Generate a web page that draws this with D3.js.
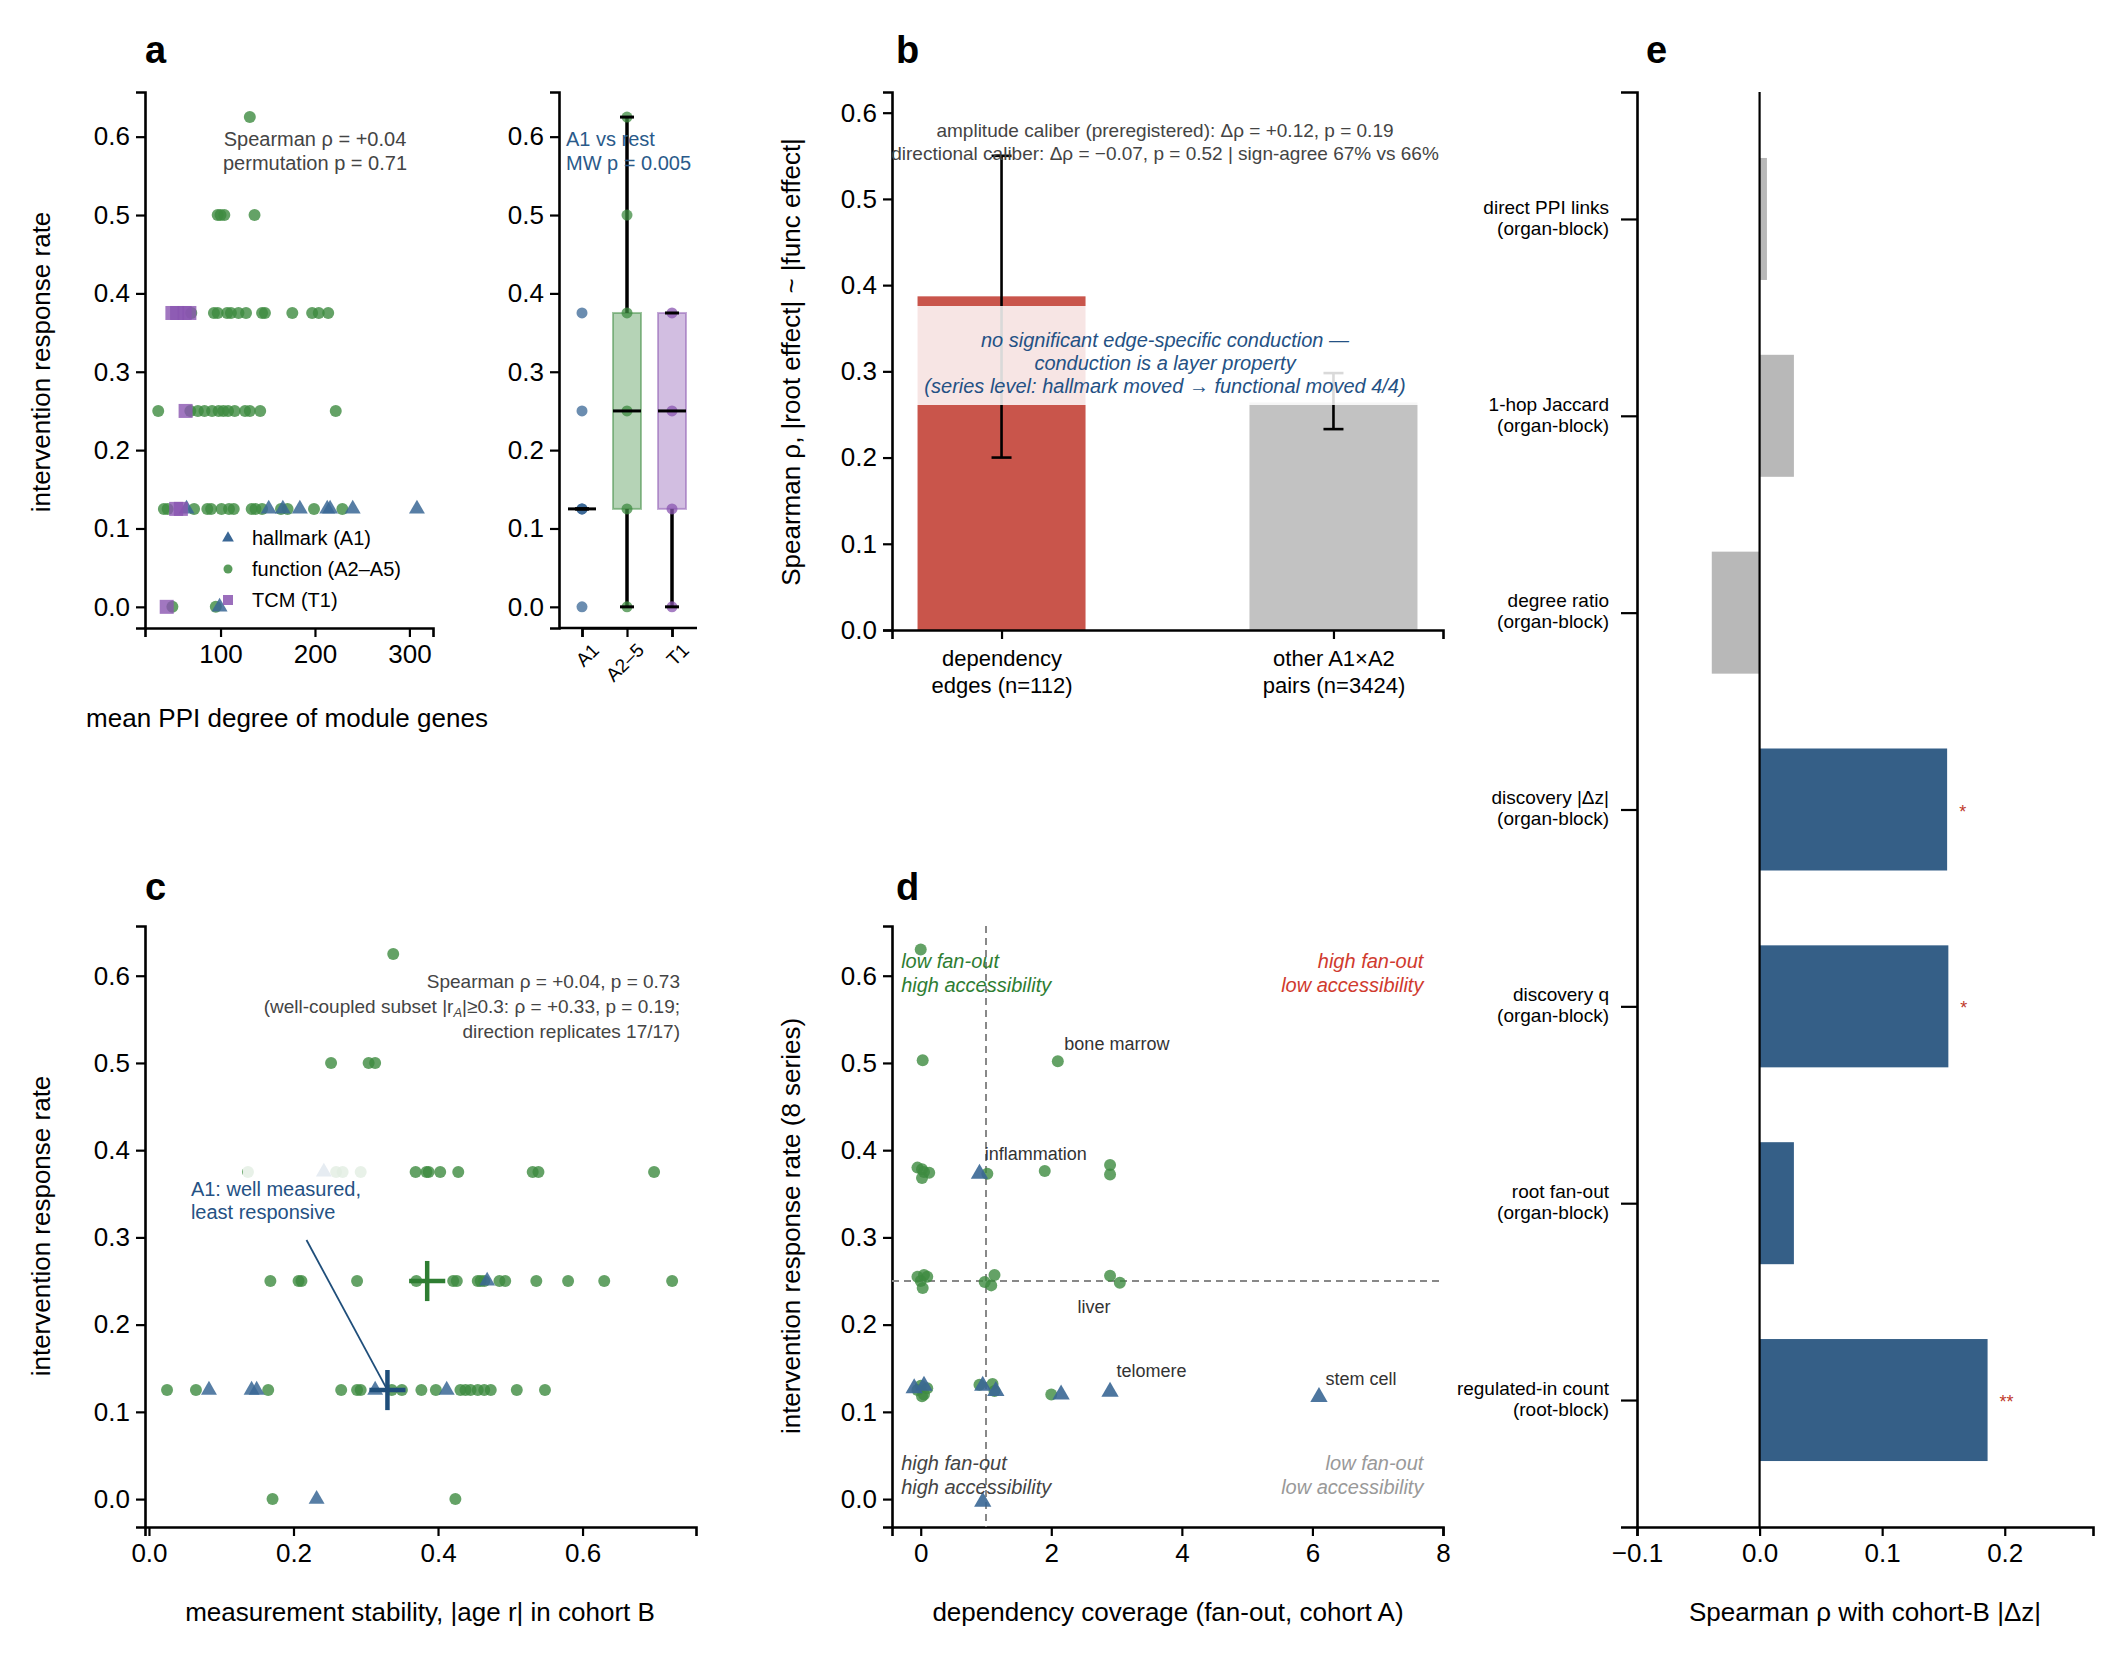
<!DOCTYPE html>
<html>
<head>
<meta charset="utf-8">
<script src="https://cdn.jsdelivr.net/npm/d3@7"></script>
<style>
body { margin:0; background:#fff; }
text { font-family: "Liberation Sans", Arial, sans-serif; }
</style>
</head>
<body>
<script>
// ---- data ----
// panel a: mean PPI degree vs response rate
const aHallmark = [[64,0.125],[151,0.125],[166,0.125],[184,0.125],[213,0.125],[216,0.125],[240,0.125],[308,0.125],[99,0.0]];
const aFunction = [[131,0.625],[97,0.5],[100,0.5],[104,0.5],[136,0.5],
  [69,0.375],[93,0.375],[97,0.375],[107,0.375],[111,0.375],[119,0.375],[127,0.375],[144,0.375],[147,0.375],[176,0.375],[197,0.375],[204,0.375],[214,0.375],
  [34,0.25],[68,0.25],[76,0.25],[83,0.25],[91,0.25],[98,0.25],[103,0.25],[108,0.25],[115,0.25],[126,0.25],[131,0.25],[142,0.25],[222,0.25],
  [40,0.125],[44,0.125],[72,0.125],[86,0.125],[90,0.125],[101,0.125],[109,0.125],[114,0.125],[133,0.125],[137,0.125],[144,0.125],[164,0.125],[171,0.125],[199,0.125],[229,0.125],
  [49,0.0],[95,0.0]];
const aTCM = [[49,0.375],[54,0.375],[62,0.375],[67,0.375],[63,0.25],[53,0.125],[58,0.125],[43,0.0]];
const aStats = ["Spearman ρ = +0.04", "permutation p = 0.71"];
// box summaries: lo, q1, median, q3, hi
const boxGroups = ["A1","A2–5","T1"];
const boxStats = [[0.125,0.125,0.125,0.125,0.125],[0.0,0.125,0.25,0.375,0.625],[0.0,0.125,0.25,0.375,0.375]];
const boxPoints = [[0.375,0.25,0.125,0.125,0.125,0.0],[0.625,0.5,0.375,0.25,0.125,0.0],[0.375,0.25,0.125,0.0]];

// panel b
const bCats = ["dependency\nedges (n=112)","other A1×A2\npairs (n=3424)"];
const bVals = [0.387, 0.264];
const bLo = [0.20, 0.233];
const bHi = [0.55, 0.298];

// panel c
const cHallmark = [[0.242,0.375],[0.468,0.25],[0.083,0.125],[0.142,0.125],[0.149,0.125],[0.313,0.125],[0.412,0.125],[0.232,0.0]];
const cFunction = [[0.338,0.625],[0.252,0.5],[0.304,0.5],[0.313,0.5],
  [0.137,0.375],[0.259,0.375],[0.268,0.375],[0.293,0.375],[0.369,0.375],[0.384,0.375],[0.387,0.375],[0.403,0.375],[0.428,0.375],[0.531,0.375],[0.539,0.375],[0.699,0.375],
  [0.168,0.25],[0.207,0.25],[0.211,0.25],[0.288,0.25],[0.370,0.25],[0.421,0.25],[0.426,0.25],[0.455,0.25],[0.459,0.25],[0.464,0.25],[0.485,0.25],[0.493,0.25],[0.536,0.25],[0.580,0.25],[0.630,0.25],[0.724,0.25],
  [0.025,0.125],[0.065,0.125],[0.165,0.125],[0.266,0.125],[0.288,0.125],[0.293,0.125],[0.336,0.125],[0.350,0.125],[0.377,0.125],[0.397,0.125],[0.431,0.125],[0.438,0.125],[0.445,0.125],[0.455,0.125],[0.464,0.125],[0.473,0.125],[0.509,0.125],[0.548,0.125],
  [0.171,0.0],[0.424,0.0]];
const cMeans = [{x:0.385,y:0.25,g:"f"},{x:0.33,y:0.125,g:"h"}];

// panel d
const dFunction = [[0.0,0.63],[0.03,0.503],[2.1,0.502],
  [-0.05,0.38],[0.02,0.378],[0.05,0.375],[0.13,0.374],[0.02,0.368],[1.02,0.373],[1.9,0.376],[2.9,0.383],[2.9,0.372],
  [-0.05,0.255],[0.0,0.25],[0.05,0.257],[0.1,0.255],[0.03,0.242],[0.98,0.249],[1.13,0.257],[1.08,0.245],[2.9,0.256],[3.05,0.248],
  [-0.05,0.125],[0.0,0.13],[0.05,0.12],[0.1,0.127],[0.02,0.118],[0.9,0.131],[1.1,0.132],[1.13,0.124],[2.0,0.12]];
const dHallmark = [[-0.1,0.127],[0.05,0.13],[0.9,0.373],[0.95,0.13],[1.15,0.124],[2.15,0.12],[2.9,0.123],[6.1,0.117],[0.95,-0.003]];
const dLabels = [["bone marrow",2.2,0.515],["inflammation",0.98,0.389],["liver",2.4,0.213],["telomere",3.0,0.14],["stem cell",6.2,0.131]];

// panel e
const eCats = ["direct PPI links\n(organ-block)","1-hop Jaccard\n(organ-block)","degree ratio\n(organ-block)","discovery |Δz|\n(organ-block)","discovery q\n(organ-block)","root fan-out\n(organ-block)","regulated-in count\n(root-block)"];
const eVals = [0.006, 0.028, -0.039, 0.153, 0.154, 0.028, 0.186];
const eStars = ["","","","*","*","","**"];
const eKind = ["g","g","g","b","b","b","b"];

// ---- styles ----
const BLUE = "#3a6795", GREEN = "#3d8b40", PURPLE = "#8a55b0", RED = "#c9554b";
const W = 2119, H = 1660;
const svg = d3.select("body").append("svg").attr("width", W).attr("height", H);

function axisStyle(g) {
  g.selectAll(".domain").attr("stroke-width", 2.6);
  g.selectAll(".tick line").attr("stroke-width", 2.2);
  g.selectAll(".tick text").attr("font-size", 26).attr("fill", "#000");
}
function tri(s) { return d3.symbol(d3.symbolTriangle, s)(); }
function letter(x, y, t) {
  svg.append("text").attr("x", x).attr("y", y).attr("font-size", 38).attr("font-weight", "bold").text(t);
}
function multiline(x, y, lines, lh, attrs) {
  const t = svg.append("text").attr("x", x).attr("y", y);
  for (const k in attrs) t.attr(k, attrs[k]);
  lines.forEach((l, i) => t.append("tspan").attr("x", x).attr("dy", i ? lh : 0).text(l));
  return t;
}
const yTicks = [0,0.1,0.2,0.3,0.4,0.5,0.6];

// ===== panel a scatter =====
const ax = d3.scaleLinear().domain([20, 325]).range([145, 433]);
const ay = d3.scaleLinear().domain([-0.027, 0.657]).range([628, 92]);
svg.append("g").attr("transform", "translate(0,628)").call(d3.axisBottom(ax).tickValues([100,200,300]).tickSizeOuter(0).tickSize(9).tickPadding(8)).call(axisStyle);
svg.append("g").attr("transform", "translate(145,0)").call(d3.axisLeft(ay).tickValues(yTicks).tickFormat(d3.format(".1f")).tickSizeOuter(0).tickSize(9).tickPadding(6)).call(axisStyle);
svg.append("g").selectAll("circle").data(aFunction).join("circle")
  .attr("cx", d => ax(d[0])).attr("cy", d => ay(d[1])).attr("r", 6).attr("fill", GREEN).attr("opacity", 0.8);
svg.append("g").selectAll("path").data(aHallmark).join("path")
  .attr("d", tri(110)).attr("transform", d => `translate(${ax(d[0])},${ay(d[1])})`).attr("fill", BLUE).attr("opacity", 0.85);
svg.append("g").selectAll("rect").data(aTCM).join("rect")
  .attr("x", d => ax(d[0]) - 7).attr("y", d => ay(d[1]) - 7).attr("width", 14).attr("height", 14).attr("fill", PURPLE).attr("opacity", 0.8);
multiline(315, 146, aStats, 24, {"font-size": 20, "fill": "#444", "text-anchor": "middle"});
svg.append("text").attr("x", 287).attr("y", 727).attr("font-size", 26).attr("text-anchor", "middle").text("mean PPI degree of module genes");
svg.append("text").attr("transform", "translate(50,362) rotate(-90)").attr("font-size", 26).attr("text-anchor", "middle").text("intervention response rate");
// legend
const leg = [["hallmark (A1)","t",BLUE],["function (A2–A5)","c",GREEN],["TCM (T1)","s",PURPLE]];
leg.forEach((l, i) => {
  const y = 538 + i * 31, x = 228;
  if (l[1] === "t") svg.append("path").attr("d", tri(60)).attr("transform", `translate(${x},${y})`).attr("fill", l[2]);
  if (l[1] === "c") svg.append("circle").attr("cx", x).attr("cy", y).attr("r", 4.5).attr("fill", l[2]).attr("opacity", 0.85);
  if (l[1] === "s") svg.append("rect").attr("x", x - 5).attr("y", y - 5).attr("width", 10).attr("height", 10).attr("fill", l[2]).attr("opacity", 0.85);
  svg.append("text").attr("x", x + 24).attr("y", y + 7).attr("font-size", 20).text(l[0]);
});
letter(145, 63, "a");

// ===== panel a box =====
const bx = d3.scalePoint().domain(boxGroups).range([582, 672]);
svg.append("g").attr("transform", "translate(0,628)").call(d3.axisBottom(bx).tickSizeOuter(0).tickSize(9)).call(axisStyle)
  .selectAll(".tick text").attr("font-size", 19).attr("text-anchor", "end").attr("dx", "-4").attr("dy", "0.9em").attr("transform", "rotate(-45)");
svg.append("g").attr("transform", "translate(559,0)").call(d3.axisLeft(ay).tickValues(yTicks).tickFormat(d3.format(".1f")).tickSizeOuter(0).tickSize(9).tickPadding(6)).call(axisStyle);
svg.append("line").attr("x1", 559).attr("x2", 697).attr("y1", 628).attr("y2", 628).attr("stroke", "#000").attr("stroke-width", 2.6);
const boxCol = [BLUE, GREEN, PURPLE];
boxGroups.forEach((g, i) => {
  const [lo, q1, med, q3, hi] = boxStats[i], cx = bx(g), hw = 14;
  if (q3 > q1) {
    svg.append("rect").attr("x", cx - hw).attr("y", ay(q3)).attr("width", hw * 2).attr("height", ay(q1) - ay(q3))
      .attr("fill", boxCol[i]).attr("fill-opacity", 0.38).attr("stroke", boxCol[i]).attr("stroke-opacity", 0.5).attr("stroke-width", 2);
  }
  if (hi > q3) svg.append("line").attr("x1", cx).attr("x2", cx).attr("y1", ay(q3)).attr("y2", ay(hi)).attr("stroke", "#000").attr("stroke-width", 3.5);
  if (lo < q1) svg.append("line").attr("x1", cx).attr("x2", cx).attr("y1", ay(q1)).attr("y2", ay(lo)).attr("stroke", "#000").attr("stroke-width", 3.5);
  svg.selectAll(null).data(boxPoints[i]).join("circle").attr("cx", cx).attr("cy", d => ay(d)).attr("r", 5.5).attr("fill", boxCol[i]).attr("opacity", 0.75);
  [lo, hi].forEach(v => svg.append("line").attr("x1", cx - 7).attr("x2", cx + 7).attr("y1", ay(v)).attr("y2", ay(v)).attr("stroke", "#000").attr("stroke-width", 3));
  svg.append("line").attr("x1", cx - hw).attr("x2", cx + hw).attr("y1", ay(med)).attr("y2", ay(med)).attr("stroke", "#000").attr("stroke-width", 3);
});
multiline(566, 146, ["A1 vs rest", "MW p = 0.005"], 24, {"font-size": 20, "fill": "#2a5a8a"});

// ===== panel b =====
const bxs = d3.scalePoint().domain(bCats).range([892, 1443]).padding(0.33);
const byy = d3.scaleLinear().domain([0, 0.624]).range([630, 92]);
const bw = 168;
svg.append("g").selectAll("rect").data(bVals).join("rect")
  .attr("x", (d, i) => bxs(bCats[i]) - bw / 2).attr("y", d => byy(d)).attr("width", bw).attr("height", d => byy(0) - byy(d))
  .attr("fill", (d, i) => i ? "#c2c2c2" : RED);
bVals.forEach((v, i) => {
  const cx = bxs(bCats[i]);
  svg.append("line").attr("x1", cx).attr("x2", cx).attr("y1", byy(bLo[i])).attr("y2", byy(bHi[i])).attr("stroke", "#000").attr("stroke-width", 2.6);
  [bLo[i], bHi[i]].forEach(e => svg.append("line").attr("x1", cx - 10).attr("x2", cx + 10).attr("y1", byy(e)).attr("y2", byy(e)).attr("stroke", "#000").attr("stroke-width", 2.6));
});
svg.append("rect").attr("x", 892).attr("y", 306).attr("width", 580).attr("height", 99).attr("fill", "#fff").attr("opacity", 0.85);
const gb = svg.append("g").attr("transform", "translate(0,630)").call(d3.axisBottom(bxs).tickSizeOuter(0).tickSize(9)).call(axisStyle);
gb.selectAll(".tick text").each(function(d) {
  const t = d3.select(this).text(null).attr("font-size", 22);
  d.split("\n").forEach((l, i) => t.append("tspan").attr("x", 0).attr("dy", i ? "1.2em" : "1.1em").text(l));
});
svg.append("g").attr("transform", "translate(892,0)").call(d3.axisLeft(byy).tickValues(yTicks).tickFormat(d3.format(".1f")).tickSizeOuter(0).tickSize(9).tickPadding(6)).call(axisStyle);
multiline(1165, 137, ["amplitude caliber (preregistered): Δρ = +0.12, p = 0.19", "directional caliber: Δρ = −0.07, p = 0.52 | sign-agree 67% vs 66%"], 23, {"font-size": 19, "fill": "#444", "text-anchor": "middle"});
multiline(1165, 347, ["no significant edge-specific conduction —", "conduction is a layer property", "(series level: hallmark moved → functional moved 4/4)"], 23, {"font-size": 20, "fill": "#245184", "font-style": "italic", "text-anchor": "middle"});
svg.append("text").attr("transform", "translate(800,362) rotate(-90)").attr("font-size", 26).attr("text-anchor", "middle").text("Spearman ρ, |root effect| ~ |func effect|");
letter(896, 63, "b");

// ===== panel c =====
const cx = d3.scaleLinear().domain([-0.0055, 0.757]).range([145, 696]);
const cy = d3.scaleLinear().domain([-0.032, 0.657]).range([1527, 926]);
svg.append("g").attr("transform", "translate(0,1527)").call(d3.axisBottom(cx).tickValues([0,0.2,0.4,0.6]).tickFormat(d3.format(".1f")).tickSizeOuter(0).tickSize(9).tickPadding(8)).call(axisStyle);
svg.append("g").attr("transform", "translate(145,0)").call(d3.axisLeft(cy).tickValues(yTicks).tickFormat(d3.format(".1f")).tickSizeOuter(0).tickSize(9).tickPadding(6)).call(axisStyle);
svg.append("g").selectAll("circle").data(cFunction).join("circle")
  .attr("cx", d => cx(d[0])).attr("cy", d => cy(d[1])).attr("r", 6).attr("fill", GREEN).attr("opacity", 0.8);
svg.append("g").selectAll("path").data(cHallmark).join("path")
  .attr("d", tri(110)).attr("transform", d => `translate(${cx(d[0])},${cy(d[1])})`).attr("fill", BLUE).attr("opacity", 0.85);
cMeans.forEach(m => {
  const col = m.g === "f" ? "#2e7d32" : "#1f4e7a";
  svg.append("line").attr("x1", cx(m.x - 0.025)).attr("x2", cx(m.x + 0.025)).attr("y1", cy(m.y)).attr("y2", cy(m.y)).attr("stroke", col).attr("stroke-width", 4.5);
  svg.append("line").attr("x1", cx(m.x)).attr("x2", cx(m.x)).attr("y1", cy(m.y - 0.023)).attr("y2", cy(m.y + 0.023)).attr("stroke", col).attr("stroke-width", 4.5);
});
svg.append("rect").attr("x", cx(0.13)).attr("y", cy(0.39)).attr("width", cx(0.31) - cx(0.13)).attr("height", cy(0.33) - cy(0.39)).attr("fill", "#fff").attr("opacity", 0.85);
multiline(cx(0.058), cy(0.347), ["A1: well measured,", "least responsive"], 23, {"font-size": 20, "fill": "#245184"});
svg.append("line").attr("x1", cx(0.218)).attr("y1", cy(0.297)).attr("x2", cx(0.33)).attr("y2", cy(0.125)).attr("stroke", "#1f4e7a").attr("stroke-width", 1.8);
const cst = svg.append("text").attr("x", 680).attr("y", 988).attr("font-size", 19).attr("fill", "#444").attr("text-anchor", "end");
cst.append("tspan").attr("x", 680).text("Spearman ρ = +0.04, p = 0.73");
const l2 = cst.append("tspan").attr("x", 680).attr("dy", 25).text("(well-coupled subset |r");
l2.append("tspan").attr("font-size", 13).attr("font-style", "italic").attr("dy", 4).text("A");
l2.append("tspan").attr("dy", -4).text("|≥0.3: ρ = +0.33, p = 0.19;");
cst.append("tspan").attr("x", 680).attr("dy", 25).text("direction replicates 17/17)");
svg.append("text").attr("x", 420).attr("y", 1621).attr("font-size", 26).attr("text-anchor", "middle").text("measurement stability, |age r| in cohort B");
svg.append("text").attr("transform", "translate(50,1226) rotate(-90)").attr("font-size", 26).attr("text-anchor", "middle").text("intervention response rate");
letter(145, 900, "c");

// ===== panel d =====
const dx = d3.scaleLinear().domain([-0.44, 8]).range([892, 1443]);
const dy = cy;
svg.append("g").attr("transform", "translate(0,1527)").call(d3.axisBottom(dx).tickValues([0,2,4,6,8]).tickSizeOuter(0).tickSize(9).tickPadding(8)).call(axisStyle);
svg.append("g").attr("transform", "translate(892,0)").call(d3.axisLeft(dy).tickValues(yTicks).tickFormat(d3.format(".1f")).tickSizeOuter(0).tickSize(9).tickPadding(6)).call(axisStyle);
svg.append("line").attr("x1", dx(1)).attr("x2", dx(1)).attr("y1", 926).attr("y2", 1527).attr("stroke", "#888").attr("stroke-width", 2).attr("stroke-dasharray", "7,5");
svg.append("line").attr("x1", 892).attr("x2", 1443).attr("y1", dy(0.25)).attr("y2", dy(0.25)).attr("stroke", "#888").attr("stroke-width", 2).attr("stroke-dasharray", "7,5");
svg.append("g").selectAll("circle").data(dFunction).join("circle")
  .attr("cx", d => dx(d[0])).attr("cy", d => dy(d[1])).attr("r", 6).attr("fill", GREEN).attr("opacity", 0.8);
svg.append("g").selectAll("path").data(dHallmark).join("path")
  .attr("d", tri(130)).attr("transform", d => `translate(${dx(d[0])},${dy(d[1])})`).attr("fill", BLUE).attr("opacity", 0.9);
dLabels.forEach(l => svg.append("text").attr("x", dx(l[1])).attr("y", dy(l[2])).attr("font-size", 18).attr("fill", "#333").text(l[0]));
const quads = [[-0.3, 0.609, "start", "#2e7d32", ["low fan-out", "high accessibility"]],
  [7.7, 0.609, "end", "#d03a2e", ["high fan-out", "low accessibility"]],
  [-0.3, 0.033, "start", "#444", ["high fan-out", "high accessibility"]],
  [7.7, 0.033, "end", "#999", ["low fan-out", "low accessibility"]]];
quads.forEach(q => multiline(dx(q[0]), dy(q[1]), q[4], 24, {"font-size": 20, "font-style": "italic", "fill": q[3], "text-anchor": q[2]}));
svg.append("text").attr("x", 1168).attr("y", 1621).attr("font-size", 26).attr("text-anchor", "middle").text("dependency coverage (fan-out, cohort A)");
svg.append("text").attr("transform", "translate(800,1226) rotate(-90)").attr("font-size", 26).attr("text-anchor", "middle").text("intervention response rate (8 series)");
letter(896, 900, "d");

// ===== panel e =====
const ex = d3.scaleLinear().domain([-0.1, 0.272]).range([1637, 2093]);
const ey = d3.scalePoint().domain(eCats).range([92, 1527]).padding(0.645);
const bh = 122;
svg.append("g").selectAll("rect").data(eVals).join("rect")
  .attr("x", d => ex(Math.min(0, d))).attr("y", (d, i) => ey(eCats[i]) - bh / 2)
  .attr("width", d => Math.abs(ex(d) - ex(0))).attr("height", bh)
  .attr("fill", (d, i) => eKind[i] === "g" ? "#b8b8b8" : "#355f87");
svg.append("line").attr("x1", ex(0)).attr("x2", ex(0)).attr("y1", 92).attr("y2", 1527).attr("stroke", "#000").attr("stroke-width", 2.2);
eVals.forEach((v, i) => {
  if (eStars[i]) svg.append("text").attr("x", ex(v) + 12).attr("y", ey(eCats[i]) + 8).attr("font-size", 18).attr("fill", "#c0392b").text(eStars[i]);
});
svg.append("g").attr("transform", "translate(0,1527)").call(d3.axisBottom(ex).tickValues([-0.1,0,0.1,0.2]).tickFormat(d => d3.format(".1f")(d).replace("-", "−")).tickSizeOuter(0).tickSize(9).tickPadding(8)).call(axisStyle);
const ge = svg.append("g").attr("transform", "translate(1637,0)").call(d3.axisLeft(ey).tickSizeOuter(0).tickSize(16).tickPadding(10)).call(axisStyle);
ge.selectAll(".tick text").each(function(d) {
  const t = d3.select(this).text(null).attr("font-size", 19);
  d.split("\n").forEach((l, i) => t.append("tspan").attr("x", -28).attr("dy", i ? "1.1em" : "-0.3em").text(l));
});
svg.append("text").attr("x", 1865).attr("y", 1621).attr("font-size", 26).attr("text-anchor", "middle").text("Spearman ρ with cohort-B |Δz|");
letter(1646, 63, "e");
</script>
</body>
</html>
